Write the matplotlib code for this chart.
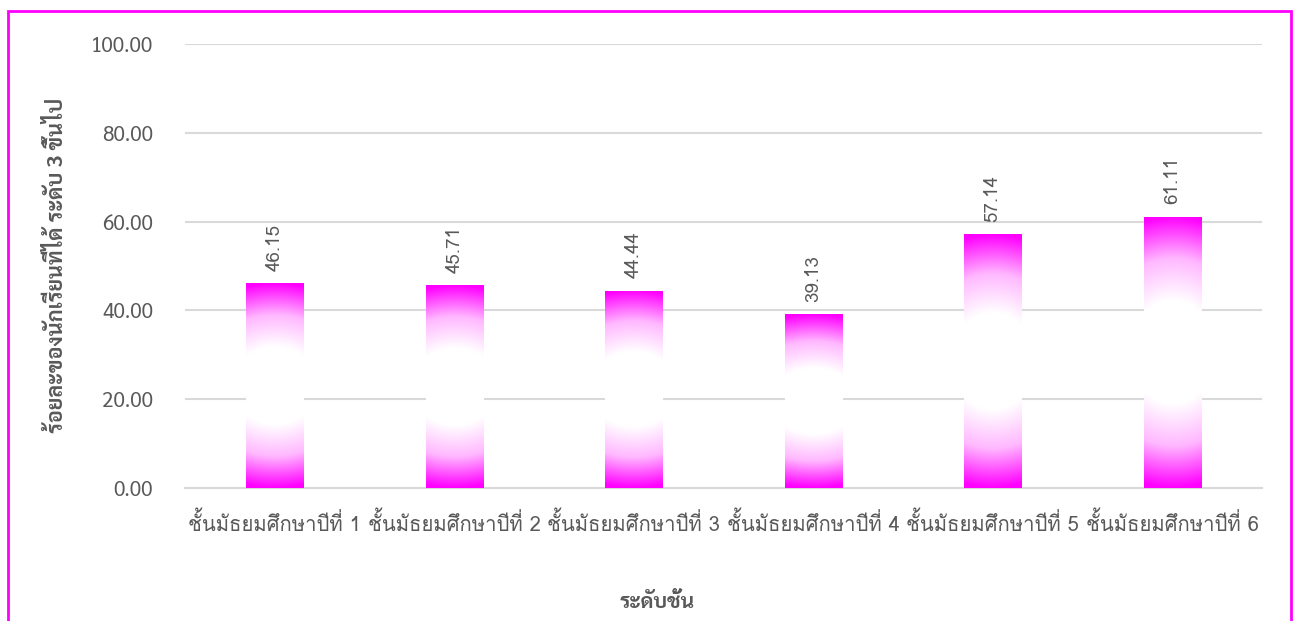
import matplotlib
matplotlib.use("Agg")
import matplotlib.pyplot as plt
import numpy as np
from matplotlib.colors import LinearSegmentedColormap
from matplotlib.patches import Rectangle

categories = ["ชั้นมัธยมศึกษาปีที่ 1", "ชั้นมัธยมศึกษาปีที่ 2", "ชั้นมัธยมศึกษาปีที่ 3",
              "ชั้นมัธยมศึกษาปีที่ 4", "ชั้นมัธยมศึกษาปีที่ 5", "ชั้นมัธยมศึกษาปีที่ 6"]
values = [46.15, 45.71, 44.44, 39.13, 57.14, 61.11]
yticks = [0, 20, 40, 60, 80, 100]
xlabel = "ระดับชั้น"
ylabel = "ร้อยละของนักเรียนที่ได้ ระดับ 3 ขึ้นไป"

THAI = ["Loma", "Sarabun", "DejaVu Sans"]
NUM = ["Sarabun", "Loma", "DejaVu Sans"]
GRAY = "#595959"
MAG = "#FF00FF"

fig = plt.figure(figsize=(12.98, 6.21), dpi=100)
ax = fig.add_axes([185/1298, 1-488/621, (1262-185)/1298, (488-44)/621])

x = np.arange(len(categories))
bars = ax.bar(x, values, width=0.32, facecolor="none", edgecolor="none", zorder=3)

cmap = LinearSegmentedColormap.from_list("g", ["#FFFFFF", "#FFB8FF", MAG], N=256)
ny, nx = 300, 80
for b in bars:
    bx, by, bw, bh = b.get_x(), b.get_y(), b.get_width(), b.get_height()
    yy, xx = np.mgrid[-1:1:ny*1j, -1:1:nx*1j]
    d = np.sqrt(yy**2 + (xx*0.25)**2)
    t = np.clip((d - 0.38) / (1.0 - 0.38), 0, 1)
    im = ax.imshow(t, cmap=cmap, vmin=0, vmax=1, extent=[bx, bx+bw, by, by+bh],
                   origin="lower", aspect="auto", interpolation="bilinear", zorder=3)
    im.set_clip_path(b)

for xi, v in zip(x, values):
    ax.annotate(f"{v:.2f}", (xi, v), xytext=(0, 9), textcoords="offset points",
                rotation=90, ha="center", va="bottom", fontsize=13.5, color=GRAY,
                family=THAI)

ax.set_xlim(-0.5, len(categories) - 0.5)
ax.set_ylim(0, 100)
ax.set_yticks(yticks)
ax.set_yticklabels([f"{t:.2f}" for t in yticks], fontsize=15, color=GRAY, family=NUM)
ax.set_xticks(x)
ax.set_xticklabels(categories, fontsize=14.6, color=GRAY, family=THAI)
ax.tick_params(axis="both", length=0)
ax.tick_params(axis="y", pad=23)
ax.tick_params(axis="x", pad=17)
ax.grid(axis="y", color="#D9D9D9", linewidth=1.5, zorder=0)
ax.set_axisbelow(True)
for s in ["top", "right", "left"]:
    ax.spines[s].set_visible(False)
ax.spines["bottom"].set_color("#D9D9D9")
ax.spines["bottom"].set_linewidth(1.5)

fig.text(657/1298, 1-603/621, xlabel, ha="center", va="center", fontsize=15,
         fontweight="bold", color=GRAY, family=NUM)
fig.text(57/1298, 1-265/621, ylabel, ha="center", va="center", rotation=90,
         fontsize=15.5, fontweight="bold", color=GRAY, family=NUM)

fig.patches.append(Rectangle((8/1298, -0.05), (1291-8)/1298, 1-11/621+0.05,
                             transform=fig.transFigure, fill=False, edgecolor=MAG,
                             linewidth=2, figure=fig))

fig.savefig("out.png", dpi=100)
